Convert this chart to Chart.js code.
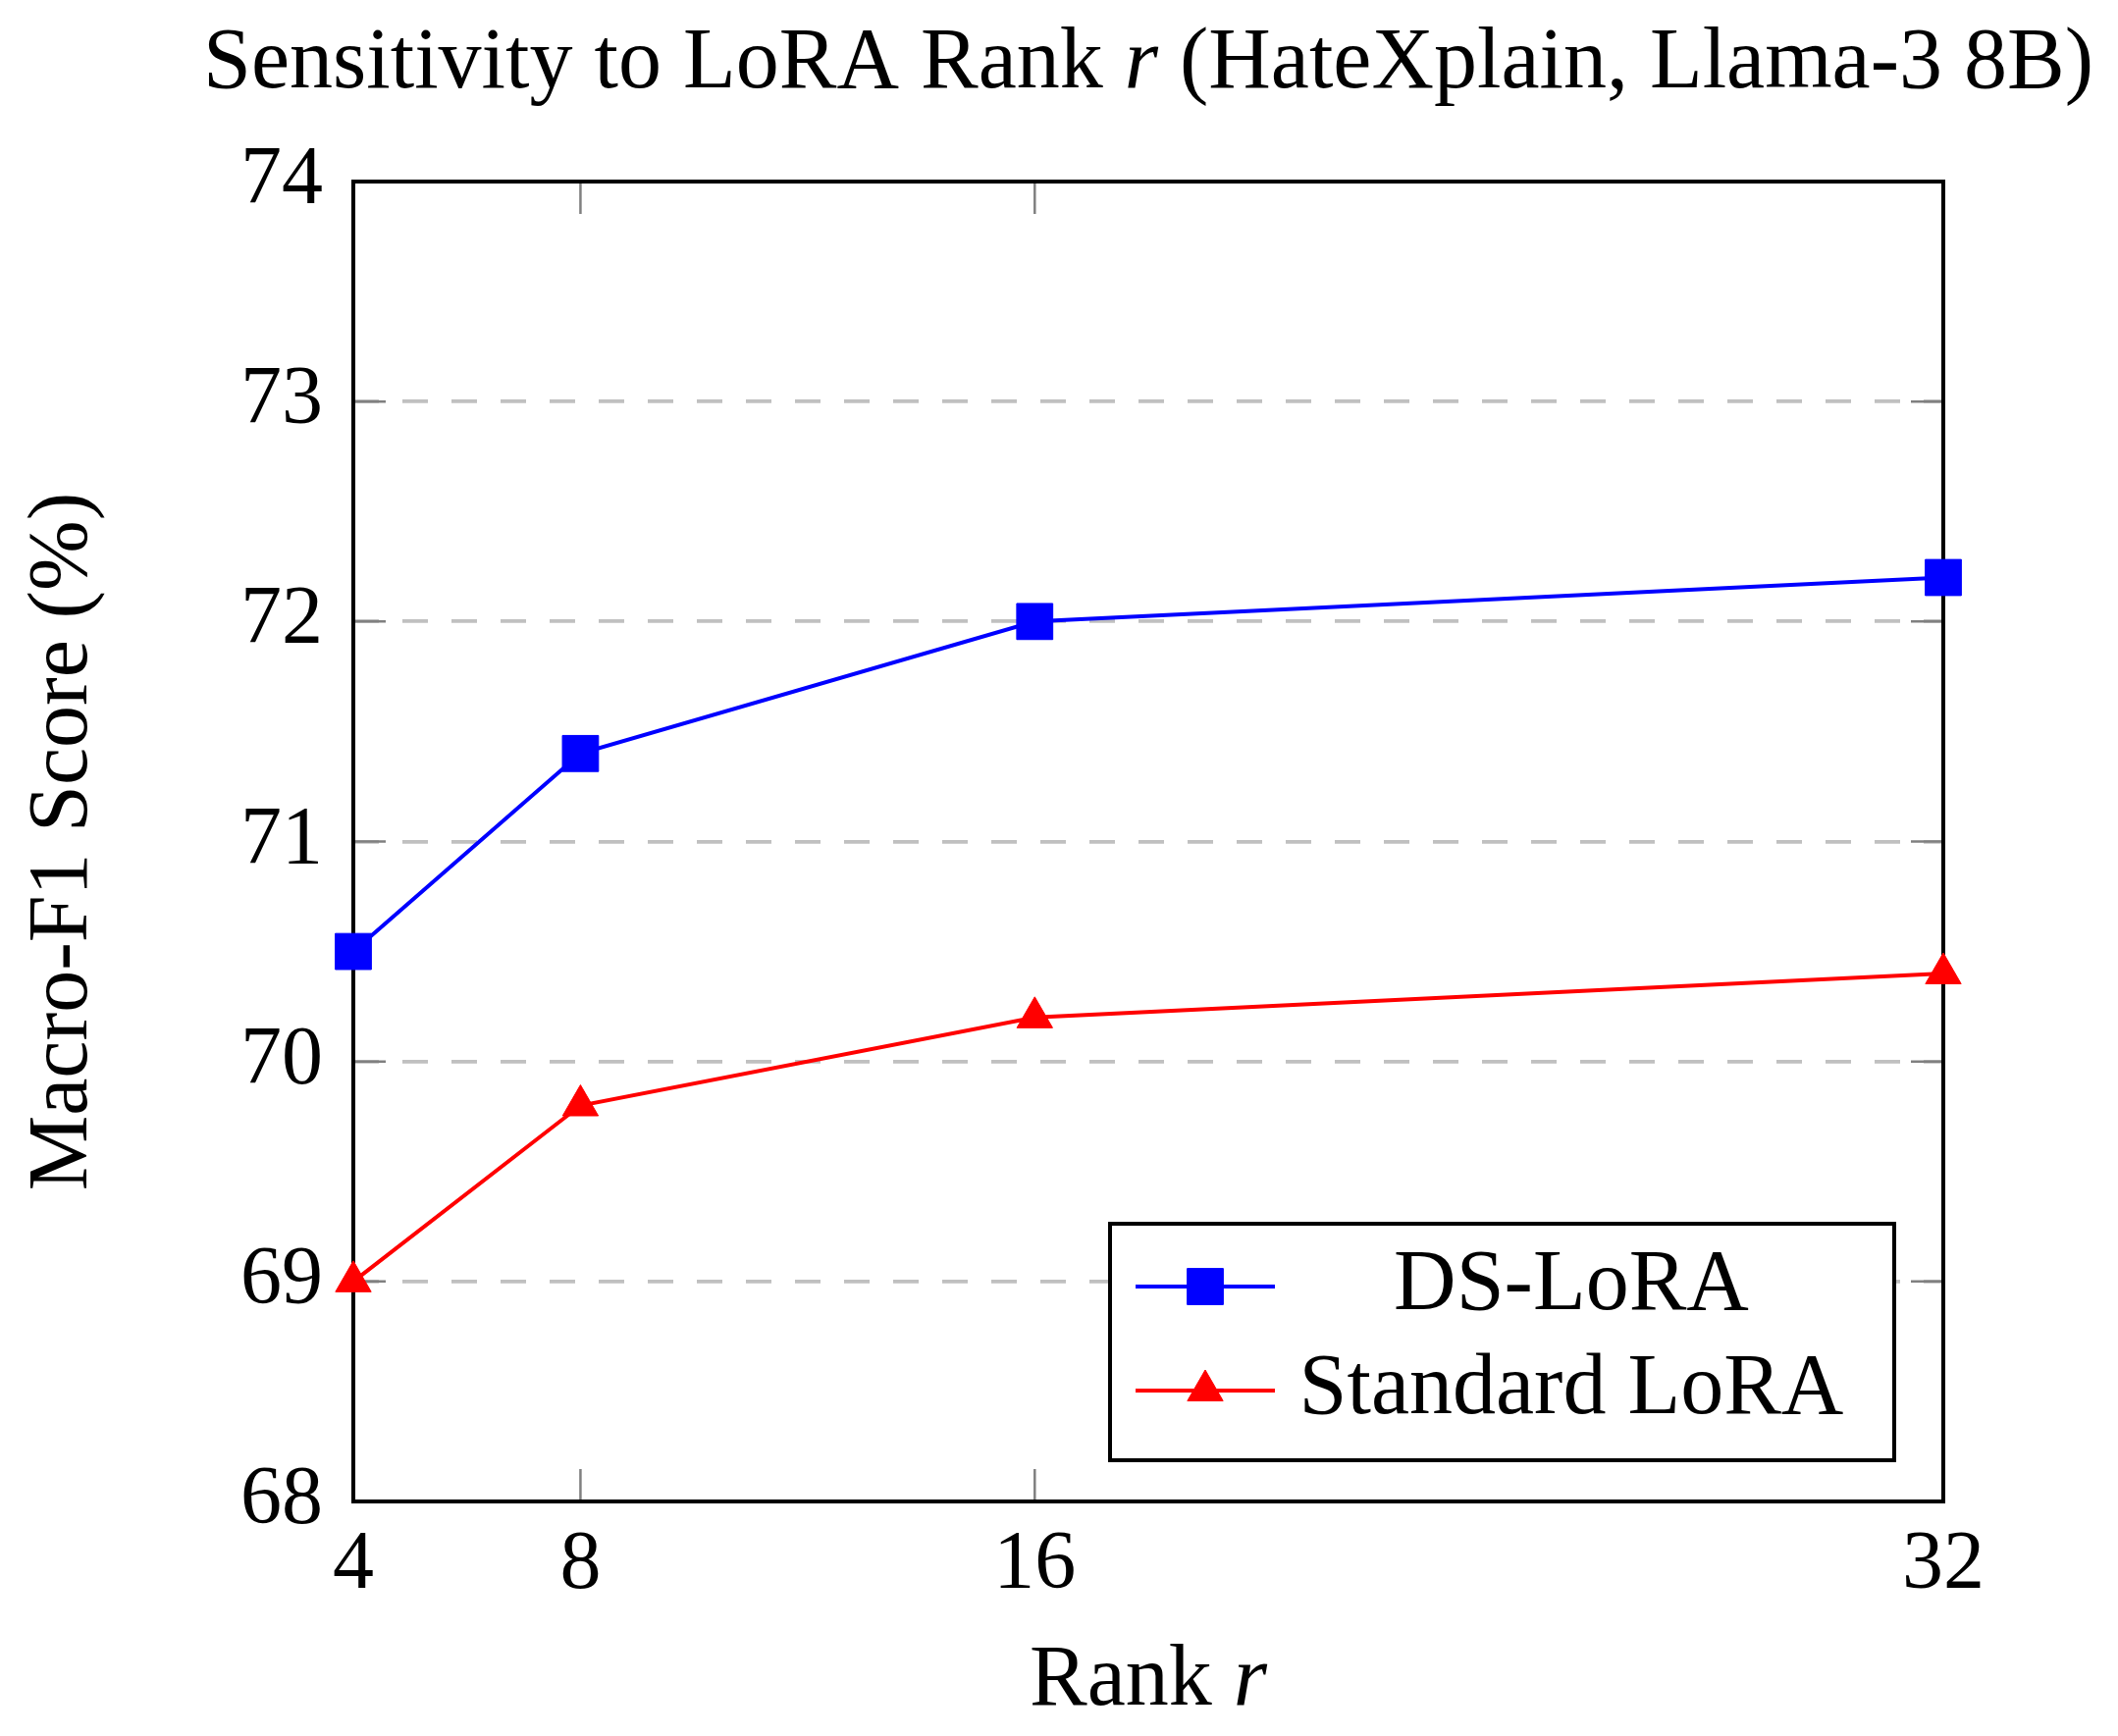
<!DOCTYPE html>
<html>
<head>
<meta charset="utf-8">
<script src="https://cdn.jsdelivr.net/npm/chart.js@4.4.1/dist/chart.umd.min.js"></script>
<style>
    html, body { margin: 0; padding: 0; background: #fff; }
    #wrap { width: 2158px; height: 1769px; position: relative; }
</style>
</head>
<body>
<div id="wrap"><canvas id="myChart"></canvas></div>
<script>
const ranks = [4, 8, 16, 32]
const dsLora = [70.5, 71.4, 72.0, 72.2]
const standardLora = [69.0, 69.8, 70.2, 70.4]
const yTicks = [68, 69, 70, 71, 72, 73, 74]

const serif = "'Liberation Serif', 'Times New Roman', serif"
const tickSize = 84
const textSize = 88

const toPoints = (xs, ys) => xs.map((x, i) => ({ x: x, y: ys[i] }))

// text made of [string, italic] pieces, centred on cx
const drawPieces = (ctx, pieces, cx, y, size) => {
    const fontFor = p => (p[1] ? 'italic ' : '') + size + 'px ' + serif
    let widths = pieces.map(p => { ctx.font = fontFor(p); return ctx.measureText(p[0]).width })
    let x = cx - widths.reduce((a, b) => a + b, 0) / 2
    ctx.textAlign = 'left'
    ctx.textBaseline = 'alphabetic'
    ctx.fillStyle = '#000'
    pieces.forEach((p, i) => {
        ctx.font = fontFor(p)
        ctx.fillText(p[0], x, y)
        x += widths[i]
    })
}

// box round the plot + inner tick marks on all four sides
const framePlugin = {
    id: 'frame',
    beforeDatasetsDraw(chart) {
        const { ctx, chartArea: a, scales: { x, y } } = chart
        ctx.save()
        ctx.strokeStyle = '#808080'
        ctx.lineWidth = 2.5
        ctx.beginPath()
        x.ticks.forEach(t => {
            const px = x.getPixelForValue(t.value)
            ctx.moveTo(px, a.bottom); ctx.lineTo(px, a.bottom - 33)
            ctx.moveTo(px, a.top); ctx.lineTo(px, a.top + 33)
        })
        y.ticks.forEach(t => {
            const py = y.getPixelForValue(t.value)
            ctx.moveTo(a.left, py); ctx.lineTo(a.left + 33, py)
            ctx.moveTo(a.right, py); ctx.lineTo(a.right - 33, py)
        })
        ctx.stroke()
        ctx.strokeStyle = '#000'
        ctx.lineWidth = 4
        ctx.strokeRect(a.left, a.top, a.right - a.left, a.bottom - a.top)
        ctx.restore()
    }
}

// legend box inside the plot, bottom right
const legendPlugin = {
    id: 'boxLegend',
    afterDatasetsDraw(chart) {
        const { ctx, chartArea: a } = chart
        const w = 799, h = 241
        const left = a.right - 50 - w
        const top = a.bottom - 42 - h
        ctx.save()
        ctx.fillStyle = '#fff'
        ctx.fillRect(left, top, w, h)
        ctx.strokeStyle = '#000'
        ctx.lineWidth = 4
        ctx.strokeRect(left, top, w, h)
        chart.data.datasets.forEach((ds, i) => {
            const rowY = top + 64 + i * 106
            ctx.strokeStyle = ds.borderColor
            ctx.lineWidth = ds.borderWidth
            ctx.beginPath()
            ctx.moveTo(left + 26, rowY)
            ctx.lineTo(left + 168, rowY)
            ctx.stroke()
            ctx.fillStyle = ds.pointBackgroundColor
            ctx.strokeStyle = ds.pointBackgroundColor
            ctx.lineWidth = 1
            Chart.helpers.drawPoint(ctx, { pointStyle: ds.pointStyle, radius: ds.pointRadius, rotation: 0, borderWidth: 1 }, left + 97, rowY)
            ctx.fillStyle = '#000'
            ctx.font = textSize + 'px ' + serif
            ctx.textAlign = 'center'
            ctx.textBaseline = 'middle'
            ctx.fillText(ds.label, left + 470, rowY)
        })
        ctx.restore()
    }
}

// title and x axis title, both with an italic r
const titlePlugin = {
    id: 'titles',
    afterDraw(chart) {
        const { ctx, chartArea: a } = chart
        const cx = (a.left + a.right) / 2
        ctx.save()
        drawPieces(ctx, [['Sensitivity to LoRA Rank ', false], ['r', true], [' (HateXplain, Llama-3 8B)', false]], cx, 89, textSize)
        drawPieces(ctx, [['Rank ', false], ['r', true]], cx, 1737, textSize)
        ctx.restore()
    }
}

let ctx = document.getElementById('myChart')

new Chart(ctx, {
    type: 'line',
    data: {
        datasets: [{
            label: 'DS-LoRA',
            data: toPoints(ranks, dsLora),
            borderColor: '#0000ff',
            borderWidth: 4,
            pointStyle: 'rect',
            pointRadius: 26,
            pointBackgroundColor: '#0000ff',
            pointBorderColor: '#0000ff',
            pointBorderWidth: 1,
            tension: 0,
            clip: false
        },
        {
            label: 'Standard LoRA',
            data: toPoints(ranks, standardLora),
            borderColor: '#ff0000',
            borderWidth: 4,
            pointStyle: 'triangle',
            pointRadius: 21,
            pointBackgroundColor: '#ff0000',
            pointBorderColor: '#ff0000',
            pointBorderWidth: 1,
            tension: 0,
            clip: false
        }]
    },
    options: {
        responsive: true,
        maintainAspectRatio: false,
        devicePixelRatio: 1,
        animation: false,
        events: [],
        layout: {
            padding: { top: 185, right: 178, left: 0, bottom: 0 }
        },
        scales: {
            x: {
                type: 'linear',
                min: ranks[0],
                max: ranks[ranks.length - 1],
                afterBuildTicks: scale => { scale.ticks = ranks.map(v => ({ value: v })) },
                afterFit: scale => { scale.height = 239 },
                grid: { display: false },
                border: { display: false },
                ticks: {
                    color: '#000',
                    padding: 8,
                    maxRotation: 0,
                    autoSkip: false,
                    font: { family: serif, size: tickSize }
                }
            },
            y: {
                min: yTicks[0],
                max: yTicks[yTicks.length - 1],
                afterBuildTicks: scale => { scale.ticks = yTicks.map(v => ({ value: v })) },
                afterFit: scale => { scale.width = 360 },
                grid: {
                    drawTicks: false,
                    lineWidth: 3.7,
                    color: c => (c.tick && (c.tick.value === yTicks[0] || c.tick.value === yTicks[yTicks.length - 1])) ? 'rgba(0,0,0,0)' : '#c0c0c0'
                },
                border: { display: false, dash: [26, 24] },
                ticks: {
                    color: '#000',
                    padding: 31,
                    font: { family: serif, size: tickSize }
                },
                title: {
                    display: true,
                    text: 'Macro-F1 Score (%)',
                    color: '#000',
                    padding: { top: 14, bottom: 0 },
                    font: { family: serif, size: 86 }
                }
            }
        },
        plugins: {
            legend: { display: false },
            title: { display: false },
            tooltip: { enabled: false }
        }
    },
    plugins: [framePlugin, legendPlugin, titlePlugin]
});
</script>
</body>
</html>
